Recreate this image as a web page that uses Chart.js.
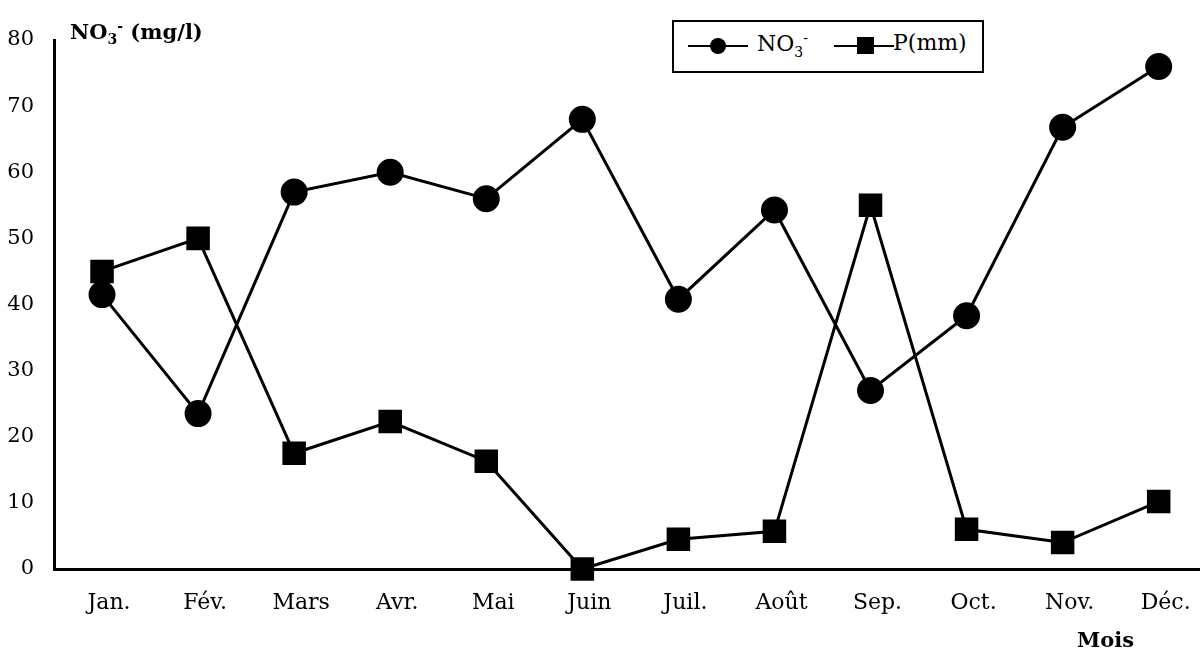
<!DOCTYPE html>
<html>
<head>
<meta charset="utf-8">
<script src="https://cdn.jsdelivr.net/npm/chart.js@4.4.1/dist/chart.umd.min.js"></script>
<style>
  body { margin: 0; background: #fff; }
  #wrap { position: relative; width: 1200px; height: 651px; font-family: "DejaVu Serif", serif; color: #000; }
  #c { position: absolute; left: 0; top: 0; }
  .lbl { position: absolute; font-weight: bold; font-size: 21px; white-space: nowrap; line-height: 1; }
  #legend { position: absolute; left: 672px; top: 20px; width: 312px; height: 53px; border: 2px solid #000; box-sizing: border-box; background: #fff; font-size: 22px; }
  .mk-line { position: absolute; height: 2px; background: #000; }
  .mk-dot { position: absolute; width: 16px; height: 16px; border-radius: 50%; background: #000; }
  .mk-sq { position: absolute; width: 17px; height: 17px; background: #000; }
  .lg-txt { position: absolute; top: 8px; white-space: nowrap; line-height: 1.2; }
  sub, sup { font-size: 14px; }
</style>
</head>
<body>
<div id="wrap">
  <canvas id="c" width="1200" height="651"></canvas>
  <div class="lbl" style="left:70px; top:19px;">NO<sub>3</sub><sup>-</sup> (mg/l)</div>
  <div class="lbl" style="left:1077px; top:629px;">Mois</div>
  <div id="legend">
    <div class="mk-line" style="left:14px; top:23px; width:60px;"></div>
    <div class="mk-dot" style="left:36px; top:16px;"></div>
    <div class="lg-txt" style="left:83px;">NO<sub>3</sub><sup>-</sup></div>
    <div class="mk-line" style="left:160px; top:23px; width:60px;"></div>
    <div class="mk-sq" style="left:183px; top:15px;"></div>
    <div class="lg-txt" style="left:219px;">P(mm)</div>
  </div>
</div>
<script>
// mois
var mois = ["Jan.", "Fév.", "Mars", "Avr.", "Mai", "Juin", "Juil.", "Août", "Sep.", "Oct.", "Nov.", "Déc."];
// nitrates (mg/l)
var nitrates = [41.5, 23.5, 57, 60, 56, 68, 40.8, 54.3, 27, 38.3, 66.8, 76];
// pluie (mm)
var pluie = [45, 50, 17.5, 22.3, 16.3, 0, 4.5, 5.7, 55, 6, 4, 10.2];
var yTicks = [0, 10, 20, 30, 40, 50, 60, 70, 80];

function pts(valeurs) {
    return valeurs.map(function (v, i) { return { x: i, y: v }; });
}

var police = { family: "DejaVu Serif", size: 21 };

new Chart(document.getElementById("c"), {
    type: "line",
    data: {
        datasets: [
            {
                label: "NO3-",
                data: pts(nitrates),
                borderColor: "#000",
                backgroundColor: "#000",
                borderWidth: 3,
                pointStyle: "circle",
                pointRadius: 12,
                pointHoverRadius: 12,
                tension: 0
            },
            {
                label: "P(mm)",
                data: pts(pluie),
                borderColor: "#000",
                backgroundColor: "#000",
                borderWidth: 3,
                pointStyle: "rect",
                pointRadius: 14.5,
                pointHoverRadius: 14.5,
                tension: 0
            }
        ]
    },
    options: {
        responsive: false,
        animation: false,
        clip: false,
        layout: { autoPadding: false, padding: { top: 40, right: 0, left: 0, bottom: 0 } },
        plugins: { legend: { display: false }, tooltip: { enabled: false } },
        scales: {
            x: {
                type: "linear",
                min: -0.5,
                max: 11.43,
                grid: { display: false },
                border: { display: true, color: "#000", width: 3 },
                afterBuildTicks: function (axis) {
                    axis.ticks = mois.map(function (m, i) { return { value: i }; });
                },
                afterFit: function (axis) {
                    axis.height = 82;
                    axis.paddingLeft = 0;
                    axis.paddingRight = 0;
                },
                ticks: {
                    color: "#000",
                    font: { family: "DejaVu Serif", size: 22 },
                    padding: 13,
                    labelOffset: 7,
                    maxRotation: 0,
                    autoSkip: false,
                    callback: function (v) { return mois[v]; }
                }
            },
            y: {
                min: 0,
                max: 80,
                grid: { display: false },
                border: { display: true, color: "#000", width: 3 },
                afterBuildTicks: function (axis) {
                    axis.ticks = yTicks.map(function (v) { return { value: v }; });
                },
                afterFit: function (axis) { axis.width = 54; },
                ticks: { color: "#000", font: police, padding: 12 }
            }
        }
    }
});
</script>
</body>
</html>
